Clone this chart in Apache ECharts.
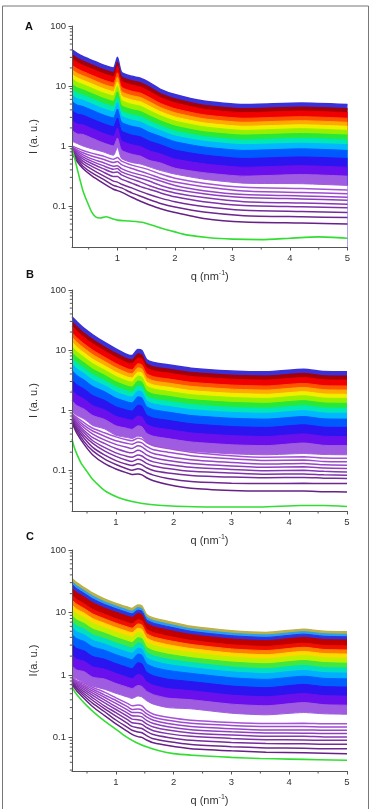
<!DOCTYPE html>
<html><head><meta charset="utf-8">
<script src="https://cdn.jsdelivr.net/npm/echarts@6/dist/echarts.min.js"></script>
<style>html,body{margin:0;padding:0;background:#fff}#c{width:370px;height:809px}</style>
</head><body><div id="c"></div>
<script>
// ---------- Panel A data ----------
const qA = [0.21,0.3,0.4,0.55,0.75,0.93,1.0,1.07,1.25,1.4,1.55,1.75,2.0,2.5,3.2,4.2,5.0];
const bandsA = [
 [40,35,31,27,22.5,20,30,17,14.5,13.5,11.5,8.8,7.2,5.6,4.9,5.2,4.9],
 [33.6,29.4,26.2,22.8,19,16.9,25.2,14.4,12.3,11.4,9.72,7.51,6.14,4.8,4.2,4.46,4.2],
 [28.2,24.7,22.1,19.3,16.1,14.3,21.2,12.1,10.4,9.64,8.21,6.4,5.24,4.11,3.6,3.82,3.6],
 [22.1,19.4,17.5,15.2,12.7,11.3,16.6,9.6,8.19,7.62,6.49,5.12,4.19,3.31,2.9,3.08,2.9],
 [18.6,16.3,14.8,12.9,10.7,9.55,14,8.11,6.92,6.44,5.49,4.37,3.58,2.84,2.48,2.64,2.48],
 [15.6,13.7,12.5,10.9,9.08,8.07,11.7,6.86,5.85,5.45,4.64,3.73,3.05,2.43,2.13,2.26,2.13],
 [13.2,11.5,10.6,9.21,7.68,6.82,9.87,5.8,4.95,4.61,3.92,3.18,2.6,2.09,1.82,1.94,1.82],
 [10.7,9.33,8.64,7.52,6.27,5.57,8,4.74,4.04,3.76,3.2,2.63,2.15,1.73,1.52,1.61,1.52],
 [8.67,7.59,7.07,6.16,5.13,4.56,6.5,3.88,3.31,3.08,2.62,2.17,1.78,1.44,1.26,1.34,1.26],
 [7.03,6.15,5.77,5.03,4.19,3.72,5.27,3.17,2.7,2.51,2.14,1.8,1.47,1.2,1.05,1.11,1.05],
 [5.51,4.82,4.56,3.98,3.31,2.94,4.13,2.5,2.13,1.99,1.69,1.44,1.18,0.964,0.844,0.895,0.844],
 [3.89,3.4,3.26,2.84,2.37,2.1,2.92,1.79,1.52,1.42,1.21,1.05,0.856,0.708,0.619,0.657,0.619],
 [2.65,2.32,2.25,1.96,1.63,1.45,1.99,1.23,1.05,0.98,0.835,0.738,0.604,0.505,0.442,0.469,0.442],
 [1.81,1.59,1.56,1.36,1.13,1,1.36,0.853,0.728,0.678,0.577,0.521,0.426,0.359,0.314,0.334,0.314],
 [1.2,1.1,1.0,0.9,0.8,0.7,0.95,0.62,0.53,0.5,0.45,0.39,0.34,0.28,0.24,0.235,0.22]
];
const linesA = [
 [1.0,0.92,0.84,0.76,0.68,0.6,0.64,0.56,0.48,0.44,0.4,0.34,0.29,0.24,0.205,0.195,0.185],
 [0.97,0.86,0.77,0.68,0.6,0.53,0.55,0.49,0.42,0.38,0.34,0.29,0.25,0.21,0.178,0.168,0.16],
 [0.95,0.81,0.71,0.61,0.53,0.46,0.47,0.42,0.36,0.33,0.3,0.26,0.22,0.18,0.155,0.147,0.14],
 [0.92,0.77,0.66,0.56,0.47,0.41,0.42,0.37,0.32,0.29,0.26,0.22,0.19,0.16,0.138,0.131,0.125],
 [0.9,0.73,0.61,0.51,0.42,0.36,0.37,0.33,0.28,0.25,0.22,0.19,0.165,0.138,0.118,0.112,0.107],
 [0.87,0.69,0.56,0.46,0.37,0.31,0.31,0.28,0.24,0.21,0.19,0.165,0.142,0.118,0.102,0.097,0.093],
 [0.84,0.64,0.51,0.41,0.32,0.26,0.25,0.23,0.2,0.175,0.155,0.135,0.118,0.098,0.085,0.081,0.078],
 [0.8,0.6,0.46,0.36,0.28,0.22,0.21,0.2,0.165,0.145,0.128,0.11,0.096,0.079,0.069,0.066,0.064],
 [0.75,0.55,0.42,0.32,0.24,0.19,0.18,0.17,0.14,0.12,0.105,0.09,0.078,0.062,0.054,0.052,0.05]
];
const greenAq = [0.21,0.26,0.3,0.35,0.4,0.47,0.55,0.62,0.7,0.8,0.9,1.0,1.2,1.45,1.75,2.0,2.2,2.6,3.0,3.5,4.0,4.5,5.0];
const greenA  = [0.9,0.6,0.42,0.27,0.18,0.12,0.08,0.066,0.063,0.066,0.062,0.058,0.056,0.053,0.043,0.037,0.033,0.0295,0.028,0.0275,0.029,0.0305,0.029];

// ---------- Panel B data ----------
const qB = [0.24,0.32,0.45,0.6,0.8,1.0,1.2,1.28,1.38,1.45,1.53,1.65,1.9,2.3,3.0,3.6,4.25,4.6,5.0];
const bandsB = [
 [36,30,23,18,13.5,10.5,8.4,8.1,10.2,9.8,7.0,6.2,5.7,5.0,4.5,4.35,4.8,4.4,4.35],
 [30.1,25,19.3,15.1,11.4,8.9,7.17,6.91,8.7,8.35,5.98,5.29,4.86,4.27,3.84,3.71,4.1,3.75,3.71],
 [25.1,20.9,16.2,12.7,9.69,7.54,6.11,5.9,7.42,7.12,5.09,4.51,4.15,3.64,3.28,3.17,3.49,3.2,3.17],
 [19.5,16.2,12.7,9.97,7.68,5.97,4.89,4.71,5.94,5.7,4.08,3.61,3.32,2.91,2.62,2.53,2.79,2.56,2.53],
 [16.3,13.6,10.7,8.38,6.51,5.06,4.17,4.03,5.07,4.87,3.48,3.08,2.83,2.49,2.24,2.16,2.39,2.19,2.16],
 [13.6,11.3,9,7.04,5.51,4.29,3.56,3.43,4.32,4.15,2.97,2.63,2.42,2.12,1.91,1.84,2.03,1.86,1.84],
 [11.3,9.44,7.56,5.92,4.67,3.63,3.04,2.93,3.69,3.54,2.53,2.25,2.06,1.81,1.63,1.57,1.74,1.59,1.57],
 [9.1,7.59,6.13,4.8,3.83,2.98,2.51,2.42,3.05,2.93,2.09,1.85,1.71,1.5,1.35,1.3,1.44,1.32,1.3],
 [7.33,6.11,4.99,3.9,3.14,2.44,2.08,2,2.52,2.42,1.73,1.53,1.41,1.24,1.11,1.08,1.19,1.09,1.08],
 [5.91,4.92,4.04,3.16,2.57,2,1.71,1.65,2.08,2.0,1.43,1.27,1.16,1.02,0.919,0.888,0.98,0.898,0.888],
 [4.58,3.82,3.17,2.48,2.04,1.59,1.37,1.32,1.67,1.6,1.15,1.02,0.931,0.816,0.735,0.71,0.784,0.718,0.71],
 [3.19,2.66,2.24,1.75,1.46,1.14,0.999,0.963,1.21,1.16,0.832,0.738,0.678,0.595,0.535,0.517,0.571,0.523,0.517],
 [2.14,1.79,1.53,1.19,1.02,0.791,0.705,0.68,0.8,0.77,0.587,0.521,0.478,0.419,0.378,0.365,0.403,0.369,0.365],
 [1.44,1.2,1.04,0.815,0.705,0.549,0.497,0.479,0.55,0.53,0.414,0.368,0.337,0.296,0.266,0.257,0.284,0.26,0.257],
 [0.969,0.82,0.711,0.556,0.49,0.381,0.35,0.338,0.37,0.36,0.291,0.259,0.238,0.208,0.188,0.181,0.19,0.183,0.181]
];
const linesB = [
 [0.9,0.76,0.62,0.5,0.42,0.36,0.32,0.31,0.34,0.33,0.29,0.255,0.23,0.2,0.175,0.165,0.168,0.16,0.158],
 [0.86,0.71,0.56,0.45,0.37,0.31,0.28,0.27,0.295,0.285,0.25,0.22,0.2,0.175,0.155,0.145,0.148,0.14,0.138],
 [0.83,0.66,0.51,0.4,0.32,0.27,0.24,0.23,0.255,0.245,0.215,0.19,0.17,0.15,0.135,0.127,0.13,0.123,0.121],
 [0.79,0.62,0.46,0.35,0.28,0.23,0.2,0.195,0.215,0.205,0.18,0.162,0.145,0.13,0.118,0.112,0.114,0.109,0.107],
 [0.76,0.58,0.42,0.31,0.24,0.195,0.17,0.165,0.18,0.173,0.153,0.138,0.125,0.112,0.103,0.098,0.1,0.096,0.094],
 [0.72,0.54,0.38,0.28,0.21,0.17,0.145,0.14,0.152,0.146,0.13,0.118,0.107,0.096,0.09,0.086,0.087,0.084,0.083],
 [0.69,0.5,0.34,0.24,0.18,0.145,0.125,0.12,0.128,0.123,0.11,0.099,0.09,0.082,0.077,0.075,0.076,0.074,0.073],
 [0.65,0.46,0.3,0.21,0.155,0.125,0.105,0.1,0.106,0.102,0.092,0.083,0.073,0.065,0.061,0.06,0.061,0.06,0.06],
 [0.62,0.42,0.27,0.18,0.13,0.105,0.09,0.085,0.087,0.084,0.075,0.067,0.058,0.05,0.046,0.045,0.045,0.044,0.0435]
];
const greenBq = [0.24,0.28,0.33,0.4,0.5,0.6,0.73,0.85,1.05,1.3,1.6,2.2,3.0,3.5,4.2,4.6,5.0];
const greenB  = [0.33,0.24,0.18,0.13,0.095,0.07,0.053,0.043,0.035,0.03,0.027,0.025,0.0245,0.0245,0.026,0.026,0.025];

// ---------- Panel C data ----------
const qC = [0.24,0.32,0.45,0.6,0.8,1.0,1.2,1.28,1.38,1.45,1.53,1.65,1.9,2.3,3.0,3.6,4.25,4.6,5.0];
const bandsC = [
 [35,30,25,20.3,16.5,14,12.2,11.6,13.2,12.7,9.3,8.17,7.2,6.0,5.1,4.8,5.4,5.0,4.9],
 [31.4,26.9,22.5,18.3,14.9,12.7,11,10.5,12,11.5,8.45,7.43,6.55,5.48,4.66,4.38,4.93,4.57,4.47],
 [28.2,24.2,20.3,16.5,13.5,11.5,10,9.51,10.9,10.5,7.68,6.75,5.95,5,4.25,4,4.5,4.17,4.08],
 [24.4,20.9,17.7,14.3,11.8,10.1,8.76,8.33,9.61,9.23,6.77,5.95,5.24,4.43,3.76,3.54,3.99,3.69,3.62],
 [18.9,16.2,13.8,11.2,9.39,7.96,6.94,6.6,7.68,7.37,5.41,4.76,4.19,3.58,3.04,2.86,3.22,2.98,2.92],
 [15.8,13.6,11.6,9.45,7.95,6.75,5.88,5.59,6.56,6.3,4.62,4.06,3.58,3.08,2.61,2.46,2.77,2.56,2.51],
 [13.2,11.3,9.78,7.94,6.74,5.72,4.98,4.74,5.59,5.37,3.94,3.46,3.05,2.64,2.24,2.11,2.38,2.2,2.16],
 [11,9.44,8.22,6.68,5.71,4.84,4.22,4.01,4.77,4.58,3.36,2.95,2.6,2.27,1.93,1.81,2.04,1.89,1.85],
 [8.85,7.59,6.67,5.41,4.68,3.97,3.46,3.29,3.95,3.79,2.78,2.44,2.15,1.89,1.61,1.51,1.7,1.58,1.54],
 [7.13,6.11,5.42,4.4,3.83,3.25,2.83,2.69,3.26,3.13,2.3,2.02,1.78,1.58,1.34,1.26,1.42,1.31,1.29],
 [5.74,4.92,4.39,3.57,3.14,2.67,2.32,2.21,2.69,2.58,1.9,1.67,1.47,1.31,1.12,1.05,1.18,1.09,1.07],
 [4.46,3.82,3.44,2.8,2.49,2.11,1.84,1.75,2.16,2.07,1.52,1.33,1.18,1.06,0.902,0.849,0.955,0.884,0.866],
 [3.11,2.66,2.43,1.97,1.79,1.52,1.32,1.26,1.57,1.51,1.11,0.969,0.856,0.783,0.666,0.626,0.705,0.653,0.64],
 [2.08,1.79,1.66,1.35,1.24,1.06,0.919,0.874,1.02,0.98,0.78,0.685,0.604,0.56,0.476,0.448,0.504,0.467,0.458],
 [1.4,1.2,1.13,0.919,0.862,0.731,0.637,0.606,0.68,0.655,0.55,0.484,0.426,0.401,0.341,0.321,0.361,0.334,0.328],
 [0.942,0.86,0.76,0.66,0.59,0.508,0.443,0.421,0.46,0.445,0.388,0.34,0.3,0.287,0.244,0.23,0.25,0.239,0.235]
];
const linesC = [
 [0.92,0.81,0.74,0.63,0.53,0.43,0.35,0.32,0.33,0.32,0.27,0.235,0.21,0.188,0.173,0.167,0.168,0.165,0.165],
 [0.89,0.78,0.7,0.59,0.48,0.39,0.31,0.28,0.285,0.275,0.24,0.21,0.188,0.168,0.155,0.149,0.149,0.147,0.147],
 [0.86,0.75,0.66,0.55,0.44,0.35,0.275,0.25,0.25,0.242,0.213,0.188,0.167,0.15,0.138,0.132,0.132,0.13,0.13],
 [0.83,0.72,0.62,0.51,0.4,0.31,0.245,0.222,0.22,0.213,0.188,0.167,0.148,0.133,0.123,0.118,0.117,0.115,0.115],
 [0.8,0.69,0.58,0.47,0.36,0.28,0.218,0.196,0.192,0.186,0.165,0.147,0.131,0.118,0.109,0.104,0.104,0.102,0.102],
 [0.78,0.66,0.54,0.43,0.32,0.25,0.192,0.172,0.167,0.162,0.144,0.128,0.115,0.104,0.096,0.092,0.091,0.09,0.09],
 [0.75,0.63,0.5,0.39,0.29,0.22,0.168,0.15,0.143,0.139,0.125,0.111,0.1,0.09,0.083,0.08,0.079,0.078,0.078],
 [0.72,0.6,0.46,0.35,0.26,0.19,0.145,0.13,0.122,0.119,0.107,0.095,0.086,0.077,0.071,0.068,0.067,0.066,0.066],
 [0.7,0.56,0.42,0.31,0.225,0.165,0.125,0.112,0.103,0.1,0.091,0.082,0.074,0.066,0.061,0.058,0.057,0.056,0.055]
];
const greenCq = [0.24,0.3,0.38,0.5,0.61,0.75,0.9,1.05,1.18,1.35,1.54,1.75,2.0,2.3,2.63,3.0,3.5,4.0,4.5,5.0];
const greenC  = [0.64,0.52,0.42,0.32,0.257,0.2,0.157,0.125,0.102,0.083,0.07,0.061,0.055,0.052,0.05,0.048,0.046,0.045,0.044,0.043];

// ---------- axis ticks ----------
const yMinorTicks = [0.03,0.04,0.05,0.06,0.07,0.08,0.09,0.2,0.3,0.4,0.5,0.6,0.7,0.8,0.9,2,3,4,5,6,7,8,9,20,30,40,50,60,70,80,90];
const xMinorTicks = [0.5,1.5,2.5,3.5,4.5];

// ---------- styles ----------
const bandColorsAB = ['#3a32d8','#a3000a','#f00000','#ff5500','#ffaa00','#f2ee00','#98f000','#28e838','#00e8b8','#00b8ff','#0058ff','#2a14f0','#6a10ec','#a05ce0','#ffffff'];
const bandColorsC  = ['#b9b14a','#2a9ef0','#2b36e0','#c00000','#f01000','#ff8000','#ffd800','#c0f000','#40e840','#00e0c0','#00b0ff','#0060ff','#2a14f0','#6a10ec','#a05ce0','#ffffff'];
const lineColors = ['#a552d8','#9d4ad0','#9644c8','#8e3ebf','#8637b4','#7e31a8','#762b9c','#6e2690','#662086'];
const FONT = 'Liberation Sans, Arial, sans-serif';

const panels = [
 {left:72, top:26, width:275.5, height:221, xmin:0.21, ymin:0.0207, yName:'I (a. u.)', q:qA, bands:bandsA, lines:linesA, gq:greenAq, g:greenA, colors:bandColorsAB},
 {left:72, top:290, width:275, height:221, xmin:0.24, ymin:0.021, yName:'I (a. u.)', q:qB, bands:bandsB, lines:linesB, gq:greenBq, g:greenB, colors:bandColorsAB},
 {left:72, top:550, width:275, height:221, xmin:0.24, ymin:0.029, yName:'I(a. u.)', q:qC, bands:bandsC, lines:linesC, gq:greenCq, g:greenC, colors:bandColorsC}
];

const grid = [], xAxis = [], yAxis = [], series = [];
panels.forEach((p, gi) => {
  grid.push({left:p.left, top:p.top, width:p.width, height:p.height, containLabel:false});
  xAxis.push({gridIndex:gi, type:'value', min:p.xmin, max:5, z:10,
    splitLine:{show:false},
    axisLine:{lineStyle:{color:'#555', width:1}},
    axisTick:{length:3.5, lineStyle:{color:'#555'}},
    axisLabel:{color:'#333', fontSize:9.5, fontFamily:FONT, margin:6, showMinLabel:false,
      formatter: v => (Math.abs(v - Math.round(v)) < 1e-6 ? String(Math.round(v)) : '')},
    name:'q (nm{s|-1})', nameLocation:'middle', nameGap:23,
    nameTextStyle:{fontSize:11, color:'#333', fontFamily:FONT,
      rich:{s:{fontSize:7, fontFamily:FONT, color:'#333', padding:[0,0,6,0]}}}
  });
  yAxis.push({gridIndex:gi, type:'log', logBase:10, min:p.ymin, max:100, z:10,
    splitLine:{show:false},
    axisLine:{show:true, lineStyle:{color:'#555', width:1}},
    axisTick:{show:true, length:3.5, lineStyle:{color:'#555'}},
    axisLabel:{color:'#333', fontSize:9.5, fontFamily:FONT, margin:6, showMinLabel:false,
      formatter: v => String(+(+v).toPrecision(3))},
    name:p.yName, nameLocation:'middle', nameGap:33, nameRotate:90,
    nameTextStyle:{fontSize:11, color:'#333', fontFamily:FONT}
  });
  const n = p.bands.length;
  p.bands.forEach((arr, i) => {
    series.push({type:'line', xAxisIndex:gi, yAxisIndex:gi, silent:true, animation:false,
      symbol:'none', smooth:0.2, z:2,
      data: arr.map((v, j) => [p.q[j], v]),
      lineStyle:{color: i === n - 1 ? p.colors[i - 1] : p.colors[i], width: i === 0 ? 1.5 : 1},
      areaStyle:{color:p.colors[i], opacity:1, origin:'start'}
    });
  });
  p.lines.forEach((arr, i) => {
    series.push({type:'line', xAxisIndex:gi, yAxisIndex:gi, silent:true, animation:false,
      symbol:'none', smooth:0.2, z:3,
      data: arr.map((v, j) => [p.q[j], v]),
      lineStyle:{color:lineColors[i], width:1.5}
    });
  });
  series.push({type:'line', xAxisIndex:gi, yAxisIndex:gi, silent:true, animation:false,
    symbol:'none', smooth:0.2, z:4,
    data: p.g.map((v, j) => [p.gq[j], v]),
    lineStyle:{color:'#33dd33', width:1.6}
  });
  const tickData = yMinorTicks.filter(v => v > p.ymin && v < 100).map(v => [p.xmin, v, 0])
    .concat(xMinorTicks.map(v => [v, p.ymin, 1]));
  series.push({type:'custom', xAxisIndex:gi, yAxisIndex:gi, silent:true, animation:false, z:20, clip:false,
    data: tickData,
    renderItem: (params, api) => {
      const pt = api.coord([api.value(0), api.value(1)]);
      const kind = api.value(2);
      const shape = kind === 0 ? {x1:pt[0]-2.2, y1:pt[1], x2:pt[0], y2:pt[1]}
                               : {x1:pt[0], y1:pt[1], x2:pt[0], y2:pt[1]+2.5};
      return {type:'line', shape:shape, style:{stroke:'#555', lineWidth:1}};
    }
  });
});

const chart = echarts.init(document.getElementById('c'), null, {renderer:'canvas'});
chart.setOption({
  animation:false,
  backgroundColor:'#fff',
  grid, xAxis, yAxis, series,
  graphic:[
    {type:'rect', shape:{x:2.5, y:6, width:366, height:820}, style:{fill:'none', stroke:'#777', lineWidth:1}, z:100},
    {type:'text', left:25, top:21, style:{text:'A', font:'bold 11px ' + FONT, fill:'#111'}, z:100},
    {type:'text', left:26, top:269, style:{text:'B', font:'bold 11px ' + FONT, fill:'#111'}, z:100},
    {type:'text', left:26, top:531, style:{text:'C', font:'bold 11px ' + FONT, fill:'#111'}, z:100}
  ]
});
</script>
</body></html>
